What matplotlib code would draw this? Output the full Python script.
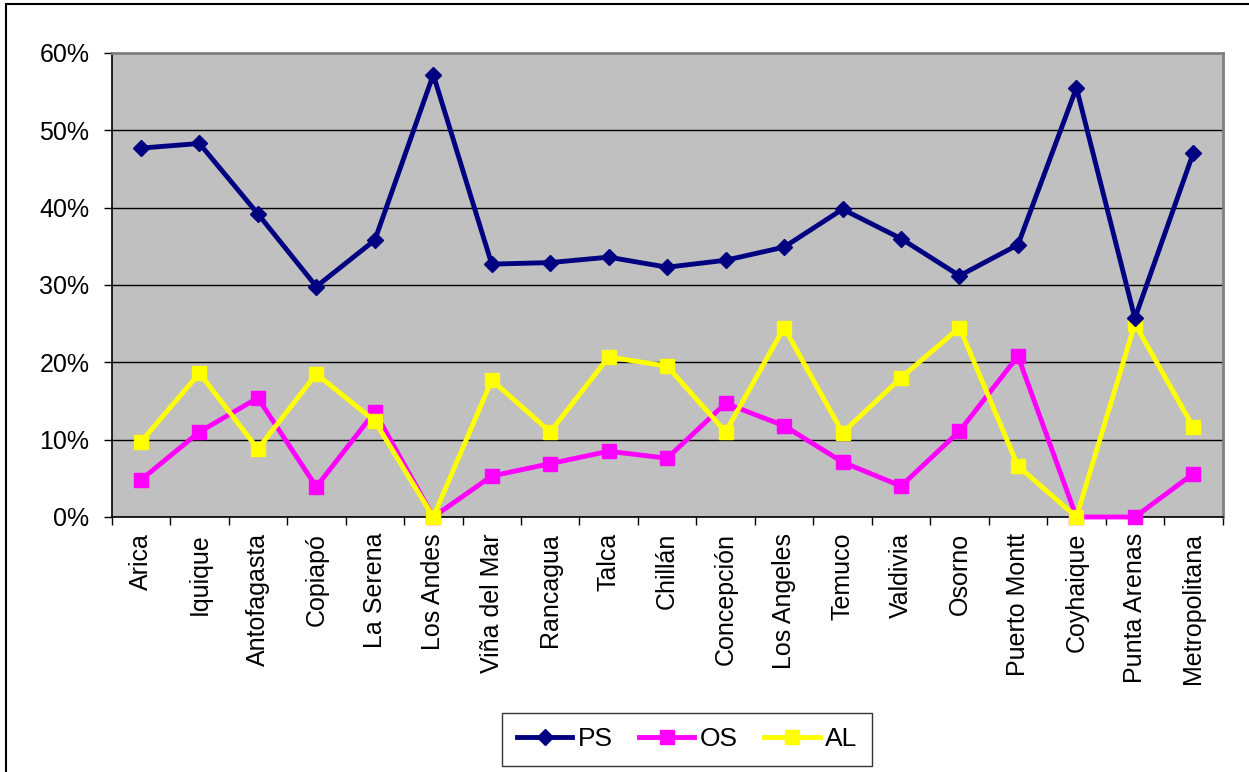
import matplotlib
matplotlib.use("Agg")
import matplotlib.pyplot as plt
from matplotlib.patches import Rectangle
from matplotlib.ticker import FixedLocator, NullFormatter, PercentFormatter

plt.rcParams['font.family'] = ['Liberation Sans', 'DejaVu Sans']

categories = ["Arica", "Iquique", "Antofagasta", "Copiapó", "La Serena", "Los Andes",
              "Viña del Mar", "Rancagua", "Talca", "Chillán", "Concepción", "Los Angeles",
              "Temuco", "Valdivia", "Osorno", "Puerto Montt", "Coyhaique", "Punta Arenas",
              "Metropolitana"]
ps = [47.7, 48.3, 39.2, 29.8, 35.8, 57.2, 32.7, 32.9, 33.6, 32.3, 33.2, 34.9,
      39.8, 36.0, 31.2, 35.2, 55.5, 25.7, 47.1]
os_ = [4.8, 11.0, 15.4, 3.9, 13.6, 0.0, 5.3, 6.9, 8.5, 7.6, 14.7, 11.8,
       7.1, 4.0, 11.1, 20.8, 0.0, 0.0, 5.6]
al = [9.7, 18.6, 8.8, 18.5, 12.4, 0.0, 17.7, 11.0, 20.7, 19.5, 11.0, 24.5,
      10.9, 18.0, 24.5, 6.6, 0.0, 25.0, 11.6]
yticks = [0, 10, 20, 30, 40, 50, 60]

fig = plt.figure(figsize=(12.49, 7.72), dpi=100)
fig.patches.append(Rectangle((6/1249, -0.01), 1.02, (772-4)/772 + 0.01,
                             transform=fig.transFigure, fill=False,
                             edgecolor='black', linewidth=1.5, zorder=0))

ax = fig.add_axes([111.7/1249, 1-517/772, (1222.6-111.7)/1249, (517-53)/772])
ax.set_facecolor('#C0C0C0')
x = list(range(len(categories)))

ax.plot(x, ps, color='#000080', linewidth=3.5, marker='D', markersize=8.5,
        label='PS', zorder=5)
ax.plot(x, os_, color='#FF00FF', linewidth=3.5, marker='s', markersize=10.5,
        label='OS', zorder=3, clip_on=False)
ax.plot(x, al, color='#FFFF00', linewidth=3.5, marker='s', markersize=10.5,
        label='AL', zorder=4, clip_on=False)

ax.set_xlim(-0.5, len(categories) - 0.5)
ax.set_ylim(0, 60)
ax.set_yticks(yticks)
ax.yaxis.set_major_formatter(PercentFormatter(decimals=0))
ax.grid(axis='y', color='black', linewidth=1)
ax.set_axisbelow(True)

ax.set_xticks(x)
ax.set_xticklabels(categories, rotation=90, fontsize=18)
ax.tick_params(axis='x', which='major', length=0, pad=11.5)
ax.xaxis.set_minor_locator(FixedLocator([i - 0.5 for i in range(len(categories) + 1)]))
ax.xaxis.set_minor_formatter(NullFormatter())
ax.tick_params(axis='x', which='minor', length=6, direction='out', width=1)
ax.tick_params(axis='y', length=6, direction='out', labelsize=18, pad=10, width=1)

for s in ['top', 'right']:
    ax.spines[s].set_color('#808080')
    ax.spines[s].set_linewidth(2)
for s in ['left', 'bottom']:
    ax.spines[s].set_color('black')
    ax.spines[s].set_linewidth(1.2)

leg = fig.legend(loc='center', bbox_to_anchor=(687/1249, 1-739.5/772), ncol=3,
                 fontsize=19, frameon=True, fancybox=False, edgecolor='black',
                 handlelength=2.1, columnspacing=1.0, handletextpad=0.2,
                 borderpad=0.55, markerscale=0.9)
leg.get_frame().set_linewidth(1)

fig.savefig('out.png', dpi=100)
